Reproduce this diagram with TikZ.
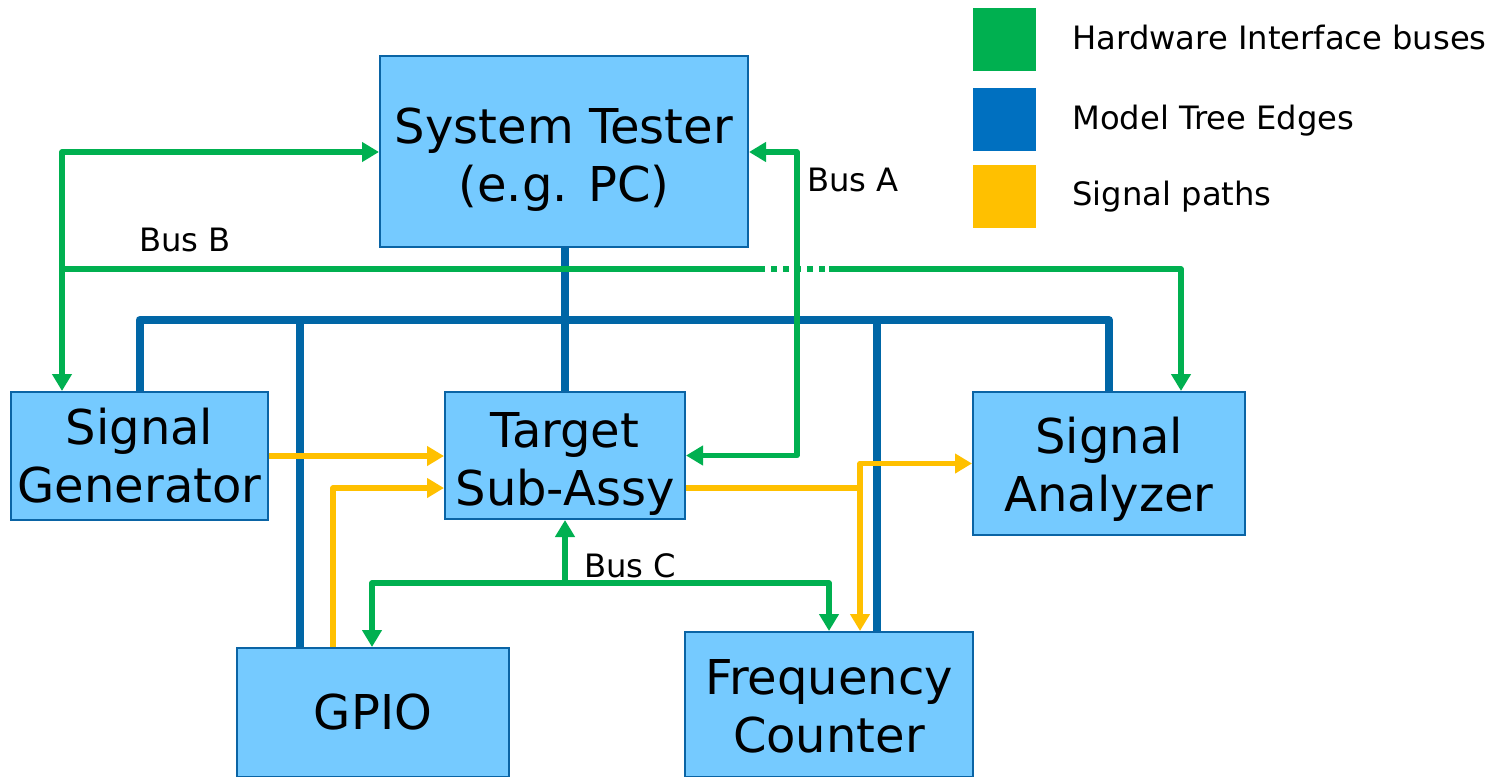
\documentclass[tikz,border=0pt]{standalone}
\usepackage{fontspec}
\setmainfont{DejaVu Sans}
\usetikzlibrary{arrows.meta}
\definecolor{busgreen}{RGB}{0,176,80}
\definecolor{treeblue}{RGB}{0,102,166}
\definecolor{legblue}{RGB}{0,112,192}
\definecolor{sigyellow}{RGB}{255,192,0}
\definecolor{boxfill}{RGB}{117,202,255}
\definecolor{boxline}{RGB}{10,100,165}
\tikzset{
  box/.style={draw=boxline, line width=1pt, fill=boxfill, inner sep=0pt},
  boxtext/.style={align=center, font=\fontsize{24}{29}\selectfont, inner sep=0pt},
  bus/.style={draw=busgreen, line width=2.8pt, line join=round,
    >={Triangle[length=8.5pt,width=9.5pt]}},
  tree/.style={draw=treeblue, line width=4pt, line join=round},
  sig/.style={draw=sigyellow, line width=2.8pt, line join=round,
    >={Triangle[length=8.5pt,width=9.5pt]}},
  lbl/.style={font=\fontsize{16.1}{19}\selectfont, inner sep=0pt},
  legsq/.style={minimum size=31.5pt, inner sep=0pt, draw=none}
}
\begin{document}
\begin{tikzpicture}[x=0.5pt,y=-0.5pt]
\useasboundingbox (0,0) rectangle (1508,776);
% boxes
\node[box, minimum width=184pt, minimum height=95.5pt] (st) at (564,151.5) {};
\node[box, minimum width=128.5pt, minimum height=64pt] (sg) at (139.5,456) {};
\node[box, minimum width=120pt, minimum height=63.5pt] (ts) at (565,455.5) {};
\node[box, minimum width=136pt, minimum height=71.5pt] (sa) at (1109,463.5) {};
\node[box, minimum width=136pt, minimum height=64.5pt] (gp) at (373,712.5) {};
\node[box, minimum width=144pt, minimum height=72.5pt] (fc) at (829,704.5) {};
\node[boxtext] (stt) at ([yshift=-4pt]st.center) {System Tester\\(e.g. PC)};
\node[boxtext] (sgt) at (sg.center) {Signal\\Generator};
\node[boxtext] (tst) at ([yshift=-4pt]ts.center) {Target\\Sub-Assy};
\node[boxtext] (sat) at ([yshift=-3pt]sa.center) {Signal\\Analyzer};
\node[boxtext] (gpt) at (gp.center) {GPIO};
\node[boxtext] (fct) at ([yshift=-1pt]fc.center) {Frequency\\Counter};
% model tree edges
\coordinate (trunk) at (565,320);
\coordinate (tg) at (300,320);
\coordinate (tf) at (877,320);
\draw[tree] (ts.north |- st.south) -- (ts.north);
\draw[tree] (sg.north) |- (trunk) -| (sa.north);
\draw[tree] (tg) -- (tg |- gp.north);
\draw[tree] (tf) -- (tf |- fc.north);
% Bus A
\coordinate (ba) at (797,152);
\draw[bus,<->] (ts.east) -| (ba) -- (ba -| st.east);
\node[lbl, anchor=west] (busa) at (807,180) {Bus A};
% Bus B
\coordinate (bb) at (62,152);
\coordinate (bbm) at (62,269);
\coordinate (bd1) at (765,269);
\coordinate (bd2) at (829,269);
\coordinate (bbr) at (1181,269);
\draw[bus,<->] (bb -| st.west) -- (bb) -- (bb |- sg.north);
\draw[bus] (bbm) -- (bd1);
\draw[draw=busgreen, line width=2.8pt, dash pattern=on 3pt off 3pt, dash phase=-3pt] (bd1) -- (bd2);
\draw[bus,->] (bd2) -- (bbr) -- (bbr |- sa.north);
\node[lbl, anchor=west] (busb) at (139,240) {Bus B};
% Bus C
\coordinate (bc) at (565,583);
\coordinate (bcl) at (372,583);
\coordinate (bcr) at (829,583);
\draw[bus,->] (bc) -- (ts.south);
\draw[bus,<->] (bcl |- gp.north) -- (bcl) -- (bcr) -- (bcr |- fc.north);
\node[lbl, anchor=west] (busc) at (584,566) {Bus C};
% signal paths
\coordinate (yg) at (333,488);
\coordinate (yj) at (860,488);
\draw[sig,->] (sg.east) -- (sg.east -| ts.west);
\draw[sig,->] (yg |- gp.north) -- (yg) -- (yg -| ts.west);
\draw[sig] (yj -| ts.east) -- (yj);
\draw[sig,<->] (yj |- fc.north) -- (yj |- sa.west) -- (sa.west);
% legend
\node[legsq, fill=busgreen] (lg) at (1004.5,39.5) {};
\node[legsq, fill=legblue] (lb) at (1004.5,119.5) {};
\node[legsq, fill=sigyellow] (ly) at (1004.5,196.5) {};
\node[lbl, anchor=base west] (lgt) at (1072,49.5) {Hardware Interface buses};
\node[lbl, anchor=base west] (lbt) at (1072,129.5) {Model Tree Edges};
\node[lbl, anchor=base west] (lyt) at (1072,205.5) {Signal paths};
\end{tikzpicture}
\end{document}
